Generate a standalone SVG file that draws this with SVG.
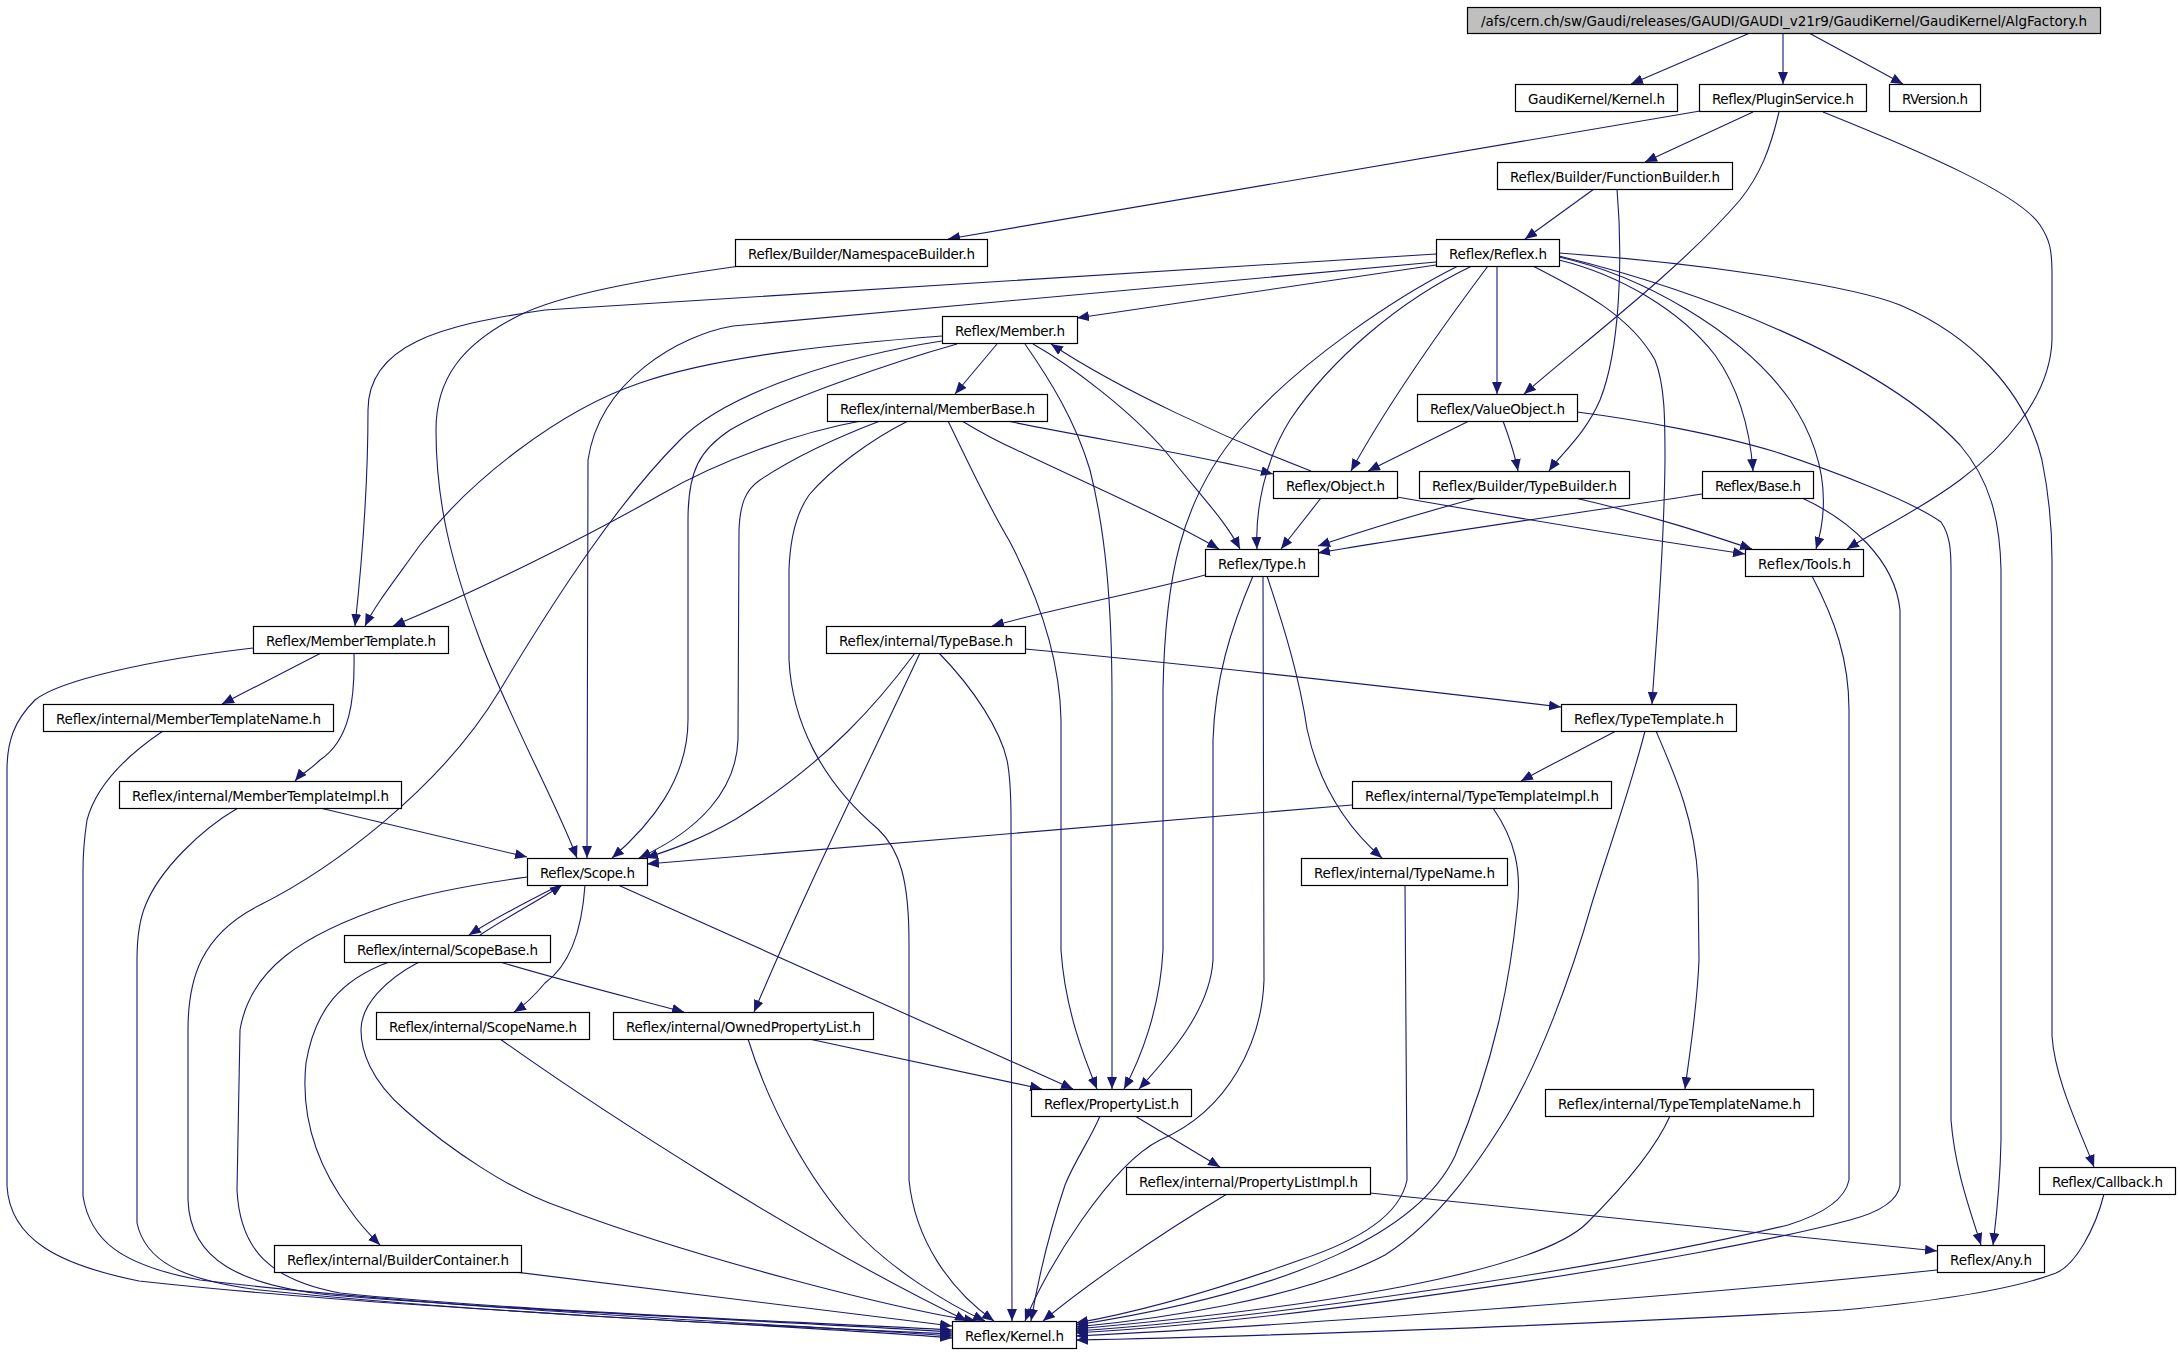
<svg xmlns="http://www.w3.org/2000/svg" width="2180" height="1355" viewBox="0 0 2180 1355">
<style>
.n rect{fill:#ffffff;stroke:#000000;stroke-width:1.2}
.n.root rect{fill:#bfbfbf}
.n text{font-family:"DejaVu Sans","Liberation Sans",sans-serif;font-size:13.5px;text-anchor:middle;fill:#000000}
.e path{fill:none;stroke:#191970;stroke-width:1.1;marker-end:url(#a)}
</style>
<defs>
<marker id="a" markerWidth="13" markerHeight="10" refX="12" refY="5" orient="auto" markerUnits="userSpaceOnUse">
<path d="M0,0 L12,5 L0,10 z" fill="#191970"/>
</marker>
</defs>
<rect width="2180" height="1355" fill="#ffffff"/>
<g id="edges" class="e">
<path d="M1750,33 L1631,84"/>
<path d="M1783,33 L1783,84"/>
<path d="M1809,33 L1903,84"/>
<path d="M1700,111 L948,239"/>
<path d="M1753,112 L1645,162"/>
<path d="M1779,112 C1770,150 1760,175 1740,200 C1680,270 1580,345 1524,394"/>
<path d="M1823,112 C1930,155 2020,195 2040,225 C2050,240 2052,250 2052,275 L2052,340 C2050,400 2000,450 1960,480 C1920,510 1880,528 1847,549"/>
<path d="M1594,189 L1525,239"/>
<path d="M1617,189 C1623,260 1620,350 1600,400 C1585,435 1560,455 1549,471"/>
<path d="M1436,254 L545,310 C440,325 368,345 368,410 C368,500 360,580 355,626"/>
<path d="M1436,262 L733,326 C680,335 600,380 588,460 L587,858"/>
<path d="M1436,265 L1077,318"/>
<path d="M1458,266 C1400,295 1300,360 1240,430 C1180,500 1165,580 1163,690 L1163,950 C1160,1010 1140,1060 1124,1089"/>
<path d="M1472,266 C1400,300 1330,360 1290,420 C1265,460 1255,510 1257,549"/>
<path d="M1488,266 C1440,330 1390,400 1351,471"/>
<path d="M1497,266 L1497,394"/>
<path d="M1533,266 C1580,290 1630,315 1655,360 C1665,385 1665,420 1665,460 C1664,560 1656,640 1652,704"/>
<path d="M1559,260 C1620,275 1680,310 1715,355 C1740,390 1750,430 1753,471"/>
<path d="M1559,257 C1640,275 1740,330 1790,400 C1830,460 1828,510 1816,549"/>
<path d="M1559,256 C1700,290 1880,360 1960,445 C1990,480 2000,520 2001,570 L2001,1140 C2000,1190 1996,1220 1993,1245"/>
<path d="M1559,253 C1700,263 1850,285 1900,305 C1970,335 2025,390 2042,460 C2050,500 2052,530 2052,560 L2052,1036 C2055,1080 2080,1130 2094,1167"/>
<path d="M740,266 C640,280 560,295 520,315 C460,345 436,380 436,430 C436,500 450,560 480,640 C510,720 555,800 577,858"/>
<path d="M997,344 L955,394"/>
<path d="M942,336 C850,343 720,355 640,383 C560,410 470,480 420,545 C395,580 375,605 365,626"/>
<path d="M957,344 C900,360 780,400 730,430 C700,450 688,470 688,520 L688,720 C688,780 650,825 612,858"/>
<path d="M942,341 C850,355 730,390 680,440 C620,500 560,590 500,690 C440,790 330,870 260,905 C200,935 188,980 188,1030 L188,1200 C190,1260 240,1285 330,1295 C500,1310 800,1322 952,1332"/>
<path d="M1025,344 C1050,380 1075,420 1090,470 C1105,530 1112,600 1112,700 L1112,1089"/>
<path d="M1033,344 C1070,365 1130,410 1166,452 C1200,495 1225,520 1240,549"/>
<path d="M861,421 C800,432 720,460 660,495 C590,535 480,590 393,626"/>
<path d="M880,421 C830,440 790,460 760,480 C745,490 740,505 739,530 L738,740 C736,790 700,830 639,858"/>
<path d="M908,421 C870,440 830,470 809,495 C795,515 790,540 789,570 L789,660 C792,720 820,780 878,829 C900,850 909,880 909,943 L909,1180 C915,1240 950,1290 994,1321"/>
<path d="M948,421 C960,445 985,500 1010,542 C1040,600 1060,660 1061,720 L1061,950 C1065,1010 1085,1060 1097,1089"/>
<path d="M962,421 C985,435 1005,445 1021,452 C1090,485 1160,515 1219,549"/>
<path d="M1007,421 C1100,440 1200,455 1273,474"/>
<path d="M1469,421 L1368,471"/>
<path d="M1503,421 C1510,440 1515,455 1518,471"/>
<path d="M1577,412 C1640,420 1720,435 1776,452 C1830,470 1910,500 1941,522 C1950,535 1951,550 1951,570 L1951,1120 C1955,1170 1970,1210 1981,1245"/>
<path d="M1311,471 C1230,440 1120,390 1051,344"/>
<path d="M1321,498 L1281,549"/>
<path d="M1397,497 C1500,515 1650,540 1745,554"/>
<path d="M1575,498 C1650,515 1710,535 1752,549"/>
<path d="M1477,498 C1440,508 1380,525 1318,546"/>
<path d="M1702,494 C1600,510 1420,535 1318,553"/>
<path d="M1802,498 C1850,520 1895,560 1900,610 L1900,1185 C1898,1200 1880,1212 1850,1220 C1700,1260 1300,1320 1076,1333"/>
<path d="M1812,576 C1835,620 1849,660 1849,710 L1849,1180 C1845,1200 1820,1215 1788,1225 C1600,1270 1250,1320 1076,1331"/>
<path d="M1205,575 C1150,590 1050,610 992,626"/>
<path d="M1253,576 C1230,630 1215,680 1213,740 L1213,960 C1210,1010 1170,1055 1139,1089"/>
<path d="M1263,576 L1264,980 C1262,1040 1230,1110 1160,1140 C1110,1165 1045,1270 1025,1321"/>
<path d="M1267,576 C1285,630 1300,680 1307,729 C1320,790 1350,830 1382,858"/>
<path d="M915,653 C880,700 830,760 736,819 C700,840 670,850 646,858"/>
<path d="M920,653 C870,760 810,880 754,1012"/>
<path d="M939,653 C975,690 1000,730 1007,760 C1011,780 1011,800 1011,820 L1012,1321"/>
<path d="M1025,649 C1200,665 1400,688 1561,707"/>
<path d="M1616,731 C1580,750 1550,765 1521,781"/>
<path d="M1656,731 C1675,775 1695,820 1698,880 L1699,960 C1697,1010 1690,1050 1685,1089"/>
<path d="M1645,731 C1630,790 1605,860 1592,903 C1570,980 1540,1060 1507,1116 C1480,1160 1440,1220 1385,1255 C1300,1300 1150,1320 1076,1327"/>
<path d="M1352,805 L647,864"/>
<path d="M1493,808 C1515,840 1522,870 1517,910 C1510,980 1495,1060 1455,1156 C1420,1230 1300,1290 1076,1325"/>
<path d="M1405,885 L1407,1180 C1400,1215 1360,1240 1300,1260 C1230,1285 1150,1310 1076,1323"/>
<path d="M1670,1116 C1655,1150 1620,1190 1587,1223 C1550,1260 1400,1300 1076,1329"/>
<path d="M1135,1116 L1220,1167"/>
<path d="M1100,1116 C1090,1140 1075,1160 1065,1185 C1050,1230 1038,1280 1031,1321"/>
<path d="M1227,1194 C1150,1240 1080,1290 1043,1321"/>
<path d="M1370,1193 L1937,1251"/>
<path d="M1937,1270 C1700,1295 1300,1325 1076,1336"/>
<path d="M2104,1194 C2095,1230 2075,1265 2056,1273 C2020,1287 1950,1300 1843,1310 C1600,1325 1200,1338 1076,1340"/>
<path d="M560,885 C530,900 495,918 469,935"/>
<path d="M480,935 C510,915 540,900 562,885"/>
<path d="M585,885 C582,930 570,965 545,983 C535,995 525,1005 514,1012"/>
<path d="M618,885 L1073,1089"/>
<path d="M527,877 C470,885 420,895 390,905 C300,935 250,970 240,1030 L237,1190 C240,1250 270,1280 340,1293 C500,1310 800,1322 952,1330"/>
<path d="M500,962 C560,980 620,995 684,1012"/>
<path d="M389,962 C340,980 315,1010 306,1063 C300,1120 320,1170 350,1210 C360,1225 372,1237 380,1245"/>
<path d="M419,962 C385,980 361,1005 361,1030 C361,1050 370,1080 405,1110 C450,1150 510,1190 560,1207 C700,1260 900,1310 976,1321"/>
<path d="M500,1039 C600,1110 800,1240 967,1321"/>
<path d="M507,1271 L952,1326"/>
<path d="M809,1039 L1042,1089"/>
<path d="M748,1039 C770,1110 810,1180 850,1225 C890,1270 950,1305 985,1321"/>
<path d="M321,653 L222,704"/>
<path d="M354,653 C355,700 350,740 320,760 C310,770 300,775 295,781"/>
<path d="M253,648 C150,660 60,680 35,700 C15,720 7,740 7,770 L7,1186 C10,1240 60,1265 139,1281 C400,1310 800,1325 952,1338"/>
<path d="M163,731 C120,760 95,790 87,820 C84,840 83,850 83,870 L83,1196 C90,1240 120,1265 200,1280 C450,1310 800,1325 952,1336"/>
<path d="M320,808 L527,857"/>
<path d="M238,808 C200,830 160,870 146,904 C139,920 137,940 137,960 L137,1223 C145,1260 180,1280 260,1290 C500,1315 800,1327 952,1334"/>
</g>
<g id="n_root" class="n root"><rect x="1467.5" y="7.5" width="633" height="26"/><text x="1784" y="26" textLength="606">/afs/cern.ch/sw/Gaudi/releases/GAUDI/GAUDI_v21r9/GaudiKernel/GaudiKernel/AlgFactory.h</text></g>
<g id="n_gkkernel" class="n"><rect x="1515.5" y="84.5" width="162" height="27"/><text x="1596.5" y="103.5" textLength="137">GaudiKernel/Kernel.h</text></g>
<g id="n_plugin" class="n"><rect x="1699.5" y="84.5" width="167" height="27"/><text x="1783" y="103.5" textLength="142">Reflex/PluginService.h</text></g>
<g id="n_rversion" class="n"><rect x="1889.5" y="84.5" width="91" height="27"/><text x="1935" y="103.5" textLength="66">RVersion.h</text></g>
<g id="n_funcbuilder" class="n"><rect x="1497.5" y="162.5" width="235" height="27"/><text x="1615" y="181.5" textLength="210">Reflex/Builder/FunctionBuilder.h</text></g>
<g id="n_nsbuilder" class="n"><rect x="735.5" y="239.5" width="252" height="27"/><text x="861.5" y="258.5" textLength="227">Reflex/Builder/NamespaceBuilder.h</text></g>
<g id="n_reflex" class="n"><rect x="1436.5" y="239.5" width="123" height="27"/><text x="1498" y="258.5" textLength="98">Reflex/Reflex.h</text></g>
<g id="n_member" class="n"><rect x="942.5" y="316.5" width="135" height="27"/><text x="1010" y="335.5" textLength="110">Reflex/Member.h</text></g>
<g id="n_memberbase" class="n"><rect x="827.5" y="394.5" width="220" height="27"/><text x="937.5" y="413.5" textLength="195">Reflex/internal/MemberBase.h</text></g>
<g id="n_valueobject" class="n"><rect x="1417.5" y="394.5" width="160" height="27"/><text x="1497.5" y="413.5" textLength="135">Reflex/ValueObject.h</text></g>
<g id="n_object" class="n"><rect x="1273.5" y="471.5" width="124" height="27"/><text x="1335.5" y="490.5" textLength="99">Reflex/Object.h</text></g>
<g id="n_typebuilder" class="n"><rect x="1419.5" y="471.5" width="210" height="27"/><text x="1524.5" y="490.5" textLength="185">Reflex/Builder/TypeBuilder.h</text></g>
<g id="n_base" class="n"><rect x="1702.5" y="471.5" width="111" height="27"/><text x="1758" y="490.5" textLength="86">Reflex/Base.h</text></g>
<g id="n_type" class="n"><rect x="1205.5" y="549.5" width="113" height="27"/><text x="1262" y="568.5" textLength="88">Reflex/Type.h</text></g>
<g id="n_tools" class="n"><rect x="1745.5" y="549.5" width="118" height="27"/><text x="1804.5" y="568.5" textLength="93">Reflex/Tools.h</text></g>
<g id="n_membertemplate" class="n"><rect x="253.5" y="626.5" width="195" height="27"/><text x="351" y="645.5" textLength="170">Reflex/MemberTemplate.h</text></g>
<g id="n_typebase" class="n"><rect x="826.5" y="626.5" width="199" height="27"/><text x="926" y="645.5" textLength="174">Reflex/internal/TypeBase.h</text></g>
<g id="n_mtname" class="n"><rect x="43.5" y="704.5" width="290" height="27"/><text x="188.5" y="723.5" textLength="265">Reflex/internal/MemberTemplateName.h</text></g>
<g id="n_typetemplate" class="n"><rect x="1561.5" y="704.5" width="175" height="27"/><text x="1649" y="723.5" textLength="150">Reflex/TypeTemplate.h</text></g>
<g id="n_mtimpl" class="n"><rect x="119.5" y="781.5" width="282" height="27"/><text x="260.5" y="800.5" textLength="257">Reflex/internal/MemberTemplateImpl.h</text></g>
<g id="n_ttimpl" class="n"><rect x="1352.5" y="781.5" width="259" height="27"/><text x="1482" y="800.5" textLength="234">Reflex/internal/TypeTemplateImpl.h</text></g>
<g id="n_scope" class="n"><rect x="527.5" y="858.5" width="120" height="27"/><text x="587.5" y="877.5" textLength="95">Reflex/Scope.h</text></g>
<g id="n_typename" class="n"><rect x="1301.5" y="858.5" width="206" height="27"/><text x="1404.5" y="877.5" textLength="181">Reflex/internal/TypeName.h</text></g>
<g id="n_scopebase" class="n"><rect x="344.5" y="935.5" width="206" height="27"/><text x="447.5" y="954.5" textLength="181">Reflex/internal/ScopeBase.h</text></g>
<g id="n_scopename" class="n"><rect x="376.5" y="1012.5" width="213" height="27"/><text x="483" y="1031.5" textLength="188">Reflex/internal/ScopeName.h</text></g>
<g id="n_ownedpl" class="n"><rect x="613.5" y="1012.5" width="260" height="27"/><text x="743.5" y="1031.5" textLength="235">Reflex/internal/OwnedPropertyList.h</text></g>
<g id="n_propertylist" class="n"><rect x="1031.5" y="1089.5" width="160" height="27"/><text x="1111.5" y="1108.5" textLength="135">Reflex/PropertyList.h</text></g>
<g id="n_ttname" class="n"><rect x="1545.5" y="1089.5" width="268" height="27"/><text x="1679.5" y="1108.5" textLength="243">Reflex/internal/TypeTemplateName.h</text></g>
<g id="n_plimpl" class="n"><rect x="1126.5" y="1167.5" width="244" height="27"/><text x="1248.5" y="1186.5" textLength="219">Reflex/internal/PropertyListImpl.h</text></g>
<g id="n_callback" class="n"><rect x="2039.5" y="1167.5" width="136" height="27"/><text x="2107.5" y="1186.5" textLength="111">Reflex/Callback.h</text></g>
<g id="n_buildercontainer" class="n"><rect x="274.5" y="1245.5" width="247" height="27"/><text x="398" y="1264.5" textLength="222">Reflex/internal/BuilderContainer.h</text></g>
<g id="n_any" class="n"><rect x="1937.5" y="1245.5" width="107" height="27"/><text x="1991" y="1264.5" textLength="82">Reflex/Any.h</text></g>
<g id="n_kernel" class="n"><rect x="952.5" y="1321.5" width="124" height="27"/><text x="1014.5" y="1340.5" textLength="99">Reflex/Kernel.h</text></g>
</svg>
